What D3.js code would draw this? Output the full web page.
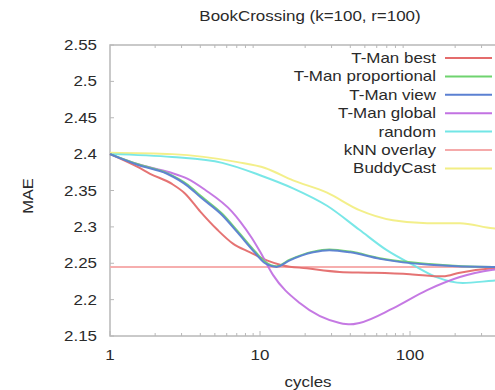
<!DOCTYPE html>
<html><head><meta charset="utf-8">
<script src="https://cdn.jsdelivr.net/npm/d3@7"></script>
<style>body{margin:0;background:#fff}svg{display:block}text{font-family:"Liberation Sans",Arial,sans-serif}</style>
</head><body><svg id="c" width="495" height="390"></svg>
<script>
const title = "BookCrossing (k=100, r=100)";
const yTicks = [2.15, 2.2, 2.25, 2.3, 2.35, 2.4, 2.45, 2.5, 2.55];
const xTicks = [1, 10, 100];
const seriesNames = ["T-Man best","T-Man proportional","T-Man view","T-Man global","random","kNN overlay","BuddyCast"];
const seriesColors = ["#e46c6c","#6fd36f","#5b80d2","#c272e2","#72e6e6","#f5aaaa","#f2ee84"];

const tmanBestX = [1,1.54,1.85,2.59,3.16,4,5.2,6.6,8.6,11.1,14.2,20.5,34,54,100,166,215,357,420];
const tmanBestY = [2.400,2.382,2.373,2.359,2.346,2.321,2.296,2.277,2.265,2.254,2.247,2.243,2.238,2.237,2.235,2.232,2.237,2.243,2.244];
const tmanPropX = [1,1.54,2.4,3.3,4,5.6,7.1,9.2,10.8,12.9,15.8,22.6,29,40,63,135,357,420];
const tmanPropY = [2.400,2.386,2.374,2.358,2.343,2.318,2.294,2.267,2.252,2.246,2.255,2.266,2.269,2.266,2.257,2.249,2.245,2.245];
const tmanViewX = [1,1.54,2.4,3.3,4,5.6,7.1,9.2,10.8,12.9,15.8,22.6,29,40,63,135,357,420];
const tmanViewY = [2.400,2.385,2.373,2.356,2.341,2.316,2.292,2.265,2.250,2.245,2.254,2.265,2.268,2.265,2.256,2.248,2.245,2.245];
const tmanGlobalX = [1,1.54,2.5,3.3,4.3,6.5,7.4,8.8,10,12.2,18.5,34,40,46,77,130,215,357,420];
const tmanGlobalY = [2.400,2.386,2.375,2.366,2.351,2.321,2.307,2.285,2.266,2.234,2.195,2.168,2.166,2.168,2.188,2.213,2.231,2.241,2.243];
const randomX = [1,2.6,5.6,10,16.6,28,46,70,104,150,225,357,420];
const randomY = [2.400,2.396,2.388,2.371,2.353,2.329,2.296,2.268,2.248,2.231,2.223,2.226,2.227];
const knnX = [1,1000];
const knnY = [2.245,2.245];
const buddyX = [1,2.6,7.1,10.8,16.6,28,46,77,130,215,357,420];
const buddyY = [2.402,2.400,2.389,2.381,2.364,2.347,2.323,2.309,2.305,2.305,2.298,2.297];

const seriesX = [tmanBestX,tmanPropX,tmanViewX,tmanGlobalX,randomX,knnX,buddyX];
const seriesY = [tmanBestY,tmanPropY,tmanViewY,tmanGlobalY,randomY,knnY,buddyY];

const svg = d3.select("#c");
const x = d3.scaleLog().domain([1,1000]).range([110,560]);
const y = d3.scaleLinear().domain([2.15,2.55]).range([336,45]);
const frame = "#b8b8b8", txt = "#2a2a2a";
const SX = 1.13;
function label(g, xx, yy, s, anchor, size){
  return g.append("text").attr("transform",`translate(${xx},${yy}) scale(${SX},1)`)
    .attr("text-anchor",anchor).attr("font-size",size).attr("fill",txt).text(s);
}

// frame
svg.append("rect").attr("x",110).attr("y",45).attr("width",450).attr("height",291)
  .attr("fill","none").attr("stroke",frame).attr("stroke-width",1.5);

// minor ticks on bottom & top
const minor = [];
[1,10,100].forEach(d=>{for(let k=2;k<=9;k++) minor.push(d*k);});
const gx = svg.append("g");
gx.selectAll("line.b").data(minor).join("line").attr("class","b")
  .attr("x1",d=>x(d)).attr("x2",d=>x(d)).attr("y1",336).attr("y2",333).attr("stroke",frame);
gx.selectAll("line.t").data(minor).join("line").attr("class","t")
  .attr("x1",d=>x(d)).attr("x2",d=>x(d)).attr("y1",45).attr("y2",48).attr("stroke",frame);
gx.selectAll("line.bm").data(xTicks).join("line").attr("class","bm")
  .attr("x1",d=>x(d)).attr("x2",d=>x(d)).attr("y1",336).attr("y2",331).attr("stroke",frame);
xTicks.forEach(d=>label(gx, x(d), 360, String(d), "middle", 15));

const gy = svg.append("g");
gy.selectAll("line").data(yTicks).join("line")
  .attr("x1",110).attr("x2",114).attr("y1",d=>y(d)).attr("y2",d=>y(d)).attr("stroke",frame);
yTicks.forEach(d=>label(gy, 97, y(d)+5, String(d), "end", 15));

label(svg, 310, 21, title, "middle", 15);
label(svg, 308, 387, "cycles", "middle", 15);
svg.append("text").attr("transform","translate(33,196) rotate(-90) scale(1.1,1)").attr("text-anchor","middle")
  .attr("font-size",15).attr("fill",txt).text("MAE");

// lines
const line = d3.line().x(d=>x(d[0])).y(d=>y(d[1])).curve(d3.curveMonotoneX);
const order = [5,6,4,0,3,1,2];
order.forEach(i=>{
  const pts = seriesX[i].map((v,j)=>[v,seriesY[i][j]]);
  svg.append("path").datum(pts).attr("d",line).attr("fill","none")
    .attr("stroke",seriesColors[i]).attr("stroke-width",2).attr("stroke-opacity",0.95);
});

// legend
const lg = svg.append("g");
seriesNames.forEach((n,i)=>{
  const yy = 58 + i*18.4;
  label(lg, 436, yy+5, n, "end", 15);
  lg.append("line").attr("x1",445).attr("x2",492).attr("y1",yy).attr("y2",yy)
    .attr("stroke",seriesColors[i]).attr("stroke-width",2);
});
</script></body></html>
